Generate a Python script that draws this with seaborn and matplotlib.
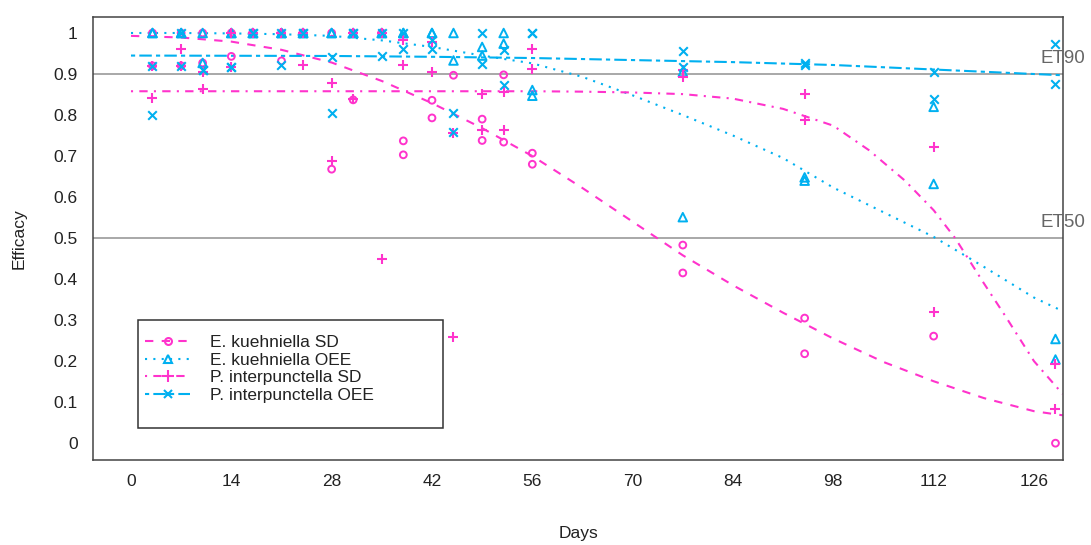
import numpy as np
import pandas as pd
import matplotlib
matplotlib.use("Agg")
import matplotlib.pyplot as plt
import seaborn as sns
from matplotlib.lines import Line2D
from matplotlib.patches import Rectangle

sns.set_style("white")
plt.rcParams['font.family'] = ['Liberation Sans', 'DejaVu Sans']

pink = "#FF33CC"
cyan = "#00B0F0"

## Observed efficacy, two replicates per sampling day
days = [3, 7, 10, 14, 17, 21, 24, 28, 31, 35, 38, 42, 45, 49, 52, 56, 77, 94, 112, 129]

ek_sd_r1 = [1.0, 1.0, 1.0, 1.0, 1.0, 1.0, 1.0, 1.0, 1.0, 1.0, 0.737, 0.836, 0.897, 0.79, 0.898, 0.707, 0.483, 0.305, 0.261, 0.0]
ek_sd_r2 = [0.92, 0.92, 0.927, 0.943, 1.0, 0.932, 1.0, 0.668, 0.837, 1.0, 0.703, 0.793, np.nan, 0.738, 0.734, 0.68, 0.415, 0.218, np.nan, np.nan]

ek_oee_r1 = [1.0, 1.0, 1.0, 1.0, 1.0, 1.0, 1.0, 1.0, 1.0, 1.0, 1.0, 1.0, 1.0, 0.966, 1.0, 0.861, 0.905, 0.648, 0.82, 0.254]
ek_oee_r2 = [1.0, 1.0, 0.927, 1.0, 1.0, 1.0, 1.0, 1.0, 1.0, 1.0, 1.0, 1.0, 0.933, 0.945, 0.974, 0.847, 0.551, 0.64, 0.632, 0.204]

pi_sd_r1 = [0.841, 0.962, 0.863, 0.917, 1.0, 1.0, 1.0, 0.878, 0.84, 1.0, 0.982, 0.979, 0.755, 0.852, 0.856, 0.962, 0.893, 0.851, 0.722, 0.194]
pi_sd_r2 = [0.92, 0.92, 0.905, 1.0, 1.0, 1.0, 0.921, 0.687, 1.0, 0.449, 0.921, 0.905, 0.258, 0.763, 0.763, 0.913, 0.91, 0.788, 0.32, 0.084]

pi_oee_r1 = [0.92, 1.0, 0.91, 0.917, 1.0, 1.0, 1.0, 0.941, 1.0, 1.0, 0.962, 0.982, 0.806, 1.0, 0.958, 1.0, 0.957, 0.926, 0.904, 0.974]
pi_oee_r2 = [0.80, 0.92, 0.91, 0.917, 1.0, 0.923, 1.0, 0.805, 1.0, 0.943, 1.0, 0.962, 0.759, 0.925, 0.874, 1.0, 0.918, 0.922, 0.838, 0.876]

## Fitted curves
fit_days = [0, 7, 14, 21, 28, 35, 42, 49, 56, 63, 70, 77, 84, 91, 98, 105, 112, 119, 126, 130]
ek_sd_fit = [0.993, 0.989, 0.979, 0.959, 0.928, 0.883, 0.829, 0.768, 0.700, 0.622, 0.540, 0.458, 0.385, 0.318, 0.255, 0.198, 0.151, 0.110, 0.078, 0.068]
ek_oee_fit = [1.0, 1.0, 0.999, 0.997, 0.993, 0.982, 0.966, 0.945, 0.926, 0.893, 0.848, 0.800, 0.750, 0.695, 0.623, 0.563, 0.503, 0.430, 0.355, 0.322]

pi_sd_fit_days = [0, 14, 28, 42, 56, 63, 70, 77, 84, 91, 98, 103, 108, 112, 115, 119, 122, 126, 130]
pi_sd_fit = [0.858, 0.858, 0.858, 0.858, 0.858, 0.857, 0.855, 0.851, 0.840, 0.815, 0.774, 0.714, 0.640, 0.568, 0.500, 0.390, 0.310, 0.200, 0.120]

pi_oee_fit_days = [0, 28, 42, 56, 70, 84, 98, 112, 126, 130]
pi_oee_fit = [0.945, 0.944, 0.942, 0.939, 0.934, 0.929, 0.922, 0.911, 0.900, 0.897]

labels = ["E. kuehniella SD", "E. kuehniella OEE", "P. interpunctella SD", "P. interpunctella OEE"]


def long(r1, r2):
    d = pd.DataFrame({'day': days + days, 'eff': r1 + r2})
    return d.dropna()


obs = [long(ek_sd_r1, ek_sd_r2), long(ek_oee_r1, ek_oee_r2),
       long(pi_sd_r1, pi_sd_r2), long(pi_oee_r1, pi_oee_r2)]
fits = [(fit_days, ek_sd_fit), (fit_days, ek_oee_fit),
        (pi_sd_fit_days, pi_sd_fit), (pi_oee_fit_days, pi_oee_fit)]
colors = [pink, cyan, pink, cyan]
markers = ['o', '^', '+', 'x']
sizes = [24, 38, 60, 38]
lstyles = [(0, (4, 4)), (0, (1, 3)), (0, (1, 3, 4, 3)), (0, (2, 2, 6, 2))]

fs = 12.5

fig = plt.figure(figsize=(10.91, 5.45), dpi=100)
ax = fig.add_axes([93 / 1091, 1 - 460 / 545, 970 / 1091, 443 / 545])

# reference lines
ax.axhline(0.9, color='#9A9A9A', lw=1.2, zorder=1)
ax.axhline(0.5, color='#9A9A9A', lw=1.2, zorder=1)
ax.text(130.1, 0.938, "ET90", color='#666666', fontsize=13.5, ha='center', va='center', clip_on=False)
ax.text(130.1, 0.538, "ET50", color='#666666', fontsize=13.5, ha='center', va='center', clip_on=False)

for i in range(4):
    if markers[i] in ['o', '^']:
        sns.scatterplot(data=obs[i], x='day', y='eff', marker=markers[i], s=sizes[i],
                        facecolor='none', edgecolor=colors[i], linewidth=1.4, ax=ax, zorder=3)
    else:
        sns.scatterplot(data=obs[i], x='day', y='eff', marker=markers[i], s=sizes[i],
                        color=colors[i], linewidth=1.5, ax=ax, zorder=3)
    sns.lineplot(x=fits[i][0], y=fits[i][1], color=colors[i], lw=1.5, linestyle=lstyles[i],
                 sort=False, estimator=None, ax=ax, zorder=2)

ax.set_xlim(-5.3, 130.05)
ax.set_ylim(-0.041, 1.039)
ax.set_xticks(np.arange(0, 127, 14))
ax.set_yticks(np.arange(0, 1.01, 0.1))
ax.set_yticklabels(["0", "0.1", "0.2", "0.3", "0.4", "0.5", "0.6", "0.7", "0.8", "0.9", "1"])
ax.tick_params(direction='out', length=5, width=1, color='#333333', labelsize=fs, labelcolor='#222222')
ax.tick_params(axis='x', pad=5)
ax.tick_params(axis='y', pad=6)
for sp in ax.spines.values():
    sp.set_color('#444444')
    sp.set_linewidth(1.1)

ax.set_xlabel("Days", fontsize=fs, color='#222222')
ax.set_ylabel("Efficacy", fontsize=fs, color='#222222')
ax.xaxis.set_label_coords(0.5, -0.15)
ax.yaxis.set_label_coords(-0.068, 0.5)

# legend frame drawn separately (R style box with extra room at the bottom)
ax.add_patch(Rectangle((45 / 970, 32 / 443), 305 / 970, 108 / 443, transform=ax.transAxes,
                       fill=True, facecolor='white', edgecolor='#333333', lw=1.1, zorder=4))

handles = []
msz = [5, 6, 8, 6]
for i in range(4):
    handles.append(Line2D([0], [0], color=colors[i], lw=1.5, linestyle=lstyles[i],
                          marker=markers[i], markersize=msz[i], markerfacecolor='none',
                          markeredgecolor=colors[i], markeredgewidth=1.5))
leg = ax.legend(handles, labels, loc='upper left', bbox_to_anchor=(52 / 970, 125 / 443),
                borderaxespad=0, borderpad=0, fontsize=fs, frameon=False,
                handlelength=2.6, handletextpad=1.15, labelspacing=0.14)
leg.set_zorder(5)
for t in leg.get_texts():
    t.set_color('#222222')

fig.savefig('out.png', dpi=100)
